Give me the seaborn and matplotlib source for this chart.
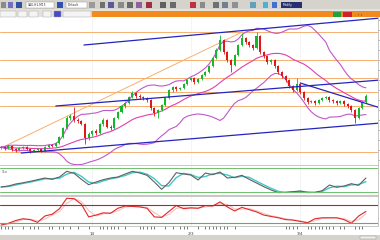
import numpy as np
import pandas as pd
import matplotlib
matplotlib.use("Agg")
import matplotlib.pyplot as plt
import seaborn as sns
from matplotlib.patches import Rectangle

# ---------------- data ----------------
first_open = 22
closes = [23, 22, 24, 21, 20, 22, 23, 21, 19, 20,
          21, 19, 23, 25, 24, 27, 33, 42, 52, 54,
          50, 49, 46, 32, 36, 39, 37, 46, 50, 43,
          42, 52, 58, 64, 67, 73, 77, 74, 73, 72,
          70, 62, 57, 60, 65, 72, 80, 83, 81, 82,
          86, 90, 92, 88, 91, 95, 98, 104, 112, 120,
          130, 118, 110, 105, 115, 125, 132, 128, 125, 122,
          134, 118, 114, 108, 110, 104, 98, 94, 90, 84,
          80, 86, 78, 72, 68, 69, 67, 70, 72, 73,
          70, 69, 67, 69, 66, 64, 60, 52, 62, 68,
          74]
highs = [24.5, 24, 25.5, 25, 22, 23, 24.5, 24, 22, 21.5,
         22.5, 22, 24, 26.5, 26, 28.5, 34, 43.5, 54, 56,
         63, 52, 50.5, 47, 38, 40, 41, 47, 52, 51,
         45, 53, 59.5, 65, 69, 74.5, 79, 78, 76, 74.5,
         73, 71, 63.5, 61.5, 66.5, 73, 81.5, 84.5, 84, 83.5,
         87.5, 91.5, 93.5, 93, 92.5, 96.5, 99.5, 105.5, 113.5, 122,
         135, 131, 119, 111, 116.5, 126.5, 137, 133.5, 129.5, 126,
         138, 135, 119.5, 115, 111.5, 111, 105, 99.5, 95, 91,
         85, 92, 87, 79, 73, 70.5, 70, 71.5, 73.5, 74.5,
         74, 71, 70, 70.5, 70, 67, 65, 61, 63.5, 69.5,
         76]
lows = [21, 20.5, 21, 19.5, 18.5, 19, 21, 20, 17.5, 18,
        19, 18, 18.5, 22, 23, 23, 26, 32, 41, 50,
        48, 47, 45, 26, 30, 34, 35.5, 36, 44, 42,
        40, 41, 51, 57, 62, 66, 72, 72.5, 71.5, 70.5,
        68.5, 60.5, 54, 52, 59, 64, 71, 78.5, 79.5, 80,
        81, 85, 89, 86.5, 87, 90, 94, 97, 103, 111,
        119, 116.5, 108.5, 98, 104, 114, 124, 126.5, 123.5, 120.5,
        121, 116.5, 112.5, 106.5, 106.5, 102.5, 96.5, 92.5, 88.5, 82.5,
        78.5, 79, 76.5, 70.5, 66.5, 67, 65.5, 66, 69, 71,
        68.5, 67.5, 65.5, 66, 64.5, 62.5, 58.5, 47, 51, 61,
        67]

fib_levels = [138, 109.7, 92.2, 78, 63.8, 18]

# trend lines: (index0, price0, index1, price1)
blue_lines = [(22.7, 125, 104, 152),
              (15.0, 64, 104, 90),
              (5.5, 17, 104, 47),
              (82.0, 87, 104, 62)]
fib_diag = (0, 22, 66.1, 138)

stoch_k = [32.5, 35, 40, 43, 46.7, 50.8, 55, 51.7, 57.5, 71.7,
           66.7, 51.7, 38.3, 45, 50.8, 55, 57.5, 65, 71.7, 67.5,
           61.7, 45, 26.7, 43.3, 68.3, 65, 62.5, 50, 67.5, 63.3,
           70, 55, 56.7, 61.7, 51.7, 42.5, 33.3, 25, 18.3, 19.2,
           20.8, 22.5, 18.3, 19.2, 23.3, 37.5, 31.7, 35, 40.8, 36.7,
           55]
rsi = [26, 30, 36, 40, 38, 32, 46, 50, 62, 85,
       84, 72, 44, 48, 53, 52, 63, 68, 67, 66,
       63, 44, 43, 56, 69, 62, 64, 63, 69, 68,
       77, 66, 57, 65, 60, 55, 48, 45, 42, 38,
       37, 34, 31, 40, 42, 42, 42, 38, 30, 46,
       56]

date_major = [25, 52, 82]
date_labels = ["14", "2/3", "3/4"]
date_minor = [0, 1, 2, 3, 6, 8, 9, 10, 13, 14, 16, 17, 19, 21, 24, 27, 28, 29, 30,
              31, 32, 34, 38, 39, 40, 41, 42, 45, 47, 49, 50, 51, 54, 56, 57, 58,
              59, 60, 61, 62, 64, 78, 79, 80, 81, 84, 85, 86, 87, 88, 89, 90,
              91, 93, 94, 97, 98, 99]

# ---------------- figure ----------------
sns.set_theme(style="white")
plt.rcParams['font.family'] = ['DejaVu Sans']

W, H = 380, 240
fig = plt.figure(figsize=(3.8, 2.4), dpi=100)
fig.patch.set_facecolor("white")


def fx(px):
    return px / W


def fy(py):
    return 1 - py / H


def frect(x0, y0, x1, y1, color, ec=None, lw=0.0, z=0):
    fig.patches.append(Rectangle((fx(x0), fy(y1)), fx(x1 - x0), (y1 - y0) / H,
                                 transform=fig.transFigure, facecolor=color,
                                 edgecolor=ec if ec else color, lw=lw, zorder=z))


# toolbar
frect(0, 0, 380, 9, "#d6d3cc")
frect(0, 9, 380, 17, "#e4e2dc")
frect(92, 11.5, 380, 17, "#f28a1e")
for (x0, x1, c) in [(1, 6, "#8a8a8a"), (8, 13, "#7070c0"), (16, 22, "#3050a0"),
                    (57, 63, "#3050b0"), (89, 95, "#9a9a9a"), (100, 105, "#707070"),
                    (108, 114, "#5a5a9a"), (118, 124, "#8a8a8a"), (127, 133, "#6a6a6a"),
                    (136, 142, "#9060a0"), (146, 152, "#a03040"), (160, 166, "#606060"),
                    (170, 176, "#6a6a6a"), (190, 196, "#c03040"), (200, 205, "#8a8a8a"),
                    (213, 219, "#707070"), (222, 228, "#708090"), (232, 238, "#909090"),
                    (250, 256, "#60a0c0"), (263, 268, "#50b0d0"), (272, 277, "#4070d0")]:
    frect(x0, 2.5, x1, 7.5, c)
frect(26, 2, 54, 8, "white", ec="#909090", lw=0.3)
frect(66, 2, 87, 8, "white", ec="#909090", lw=0.3)
frect(281, 2.5, 302, 8, "#26306e")
fig.text(fx(28), fy(5), "XAU,H1,M15", fontsize=2.2, color="#333333", va="center")
fig.text(fx(68), fy(5), "Default", fontsize=2.2, color="#333333", va="center")
fig.text(fx(283), fy(5.2), "Modify", fontsize=2.2, color="white", va="center")
for (x0, x1, c) in [(0, 16, "#f4f4f4"), (18, 27, "#f4f4f4"), (29, 38, "#f4f4f4"),
                    (43, 51, "#f4f4f4"), (54, 61, "#4a4ac8"), (63, 91, "#f4f4f4")]:
    frect(x0, 11, x1, 17, c, ec="#a0a0a0", lw=0.3)
frect(333, 12.5, 341, 16.5, "#20a040")
frect(343, 12.5, 352, 16.5, "#d02030")
fig.text(fx(355), fy(14.5), "- + x", fontsize=2.2, color="#505050", va="center")
frect(0, 235, 380, 240, "#d6d3cc")
frect(360, 236, 376, 239, "#ecebe6", ec="#909090", lw=0.3)

XL = (-0.3, 103.3)

# ---------------- main chart ----------------
ax = fig.add_axes([0, fy(165), fx(378), (165 - 17) / H])
idx = np.arange(len(closes))
opens = [first_open] + closes[:-1]
o = np.array(opens, float)
c = np.array(closes, float)
up = c >= o
col = np.where(up, "#14b828", "#e01818")
ax.vlines(idx, lows, highs, colors=col, lw=0.6, zorder=4)
body = np.maximum(np.abs(c - o), 0.7)
ax.bar(idx, body, bottom=np.minimum(o, c), width=0.55, color=col, lw=0, zorder=5)

for lv in fib_levels:
    ax.axhline(lv, color="#f5b070", lw=0.7, zorder=2)

df = pd.DataFrame({"i": idx, "close": c})
mid = df["close"].rolling(20, min_periods=1).mean()
sd = df["close"].rolling(20, min_periods=1).std(ddof=0)
sns.lineplot(x=idx, y=mid, ax=ax, color="#e040b0", lw=0.8, zorder=3)
sns.lineplot(x=idx, y=mid + 2 * sd, ax=ax, color="#c058c8", lw=0.8, zorder=3)
sns.lineplot(x=idx, y=mid - 2 * sd, ax=ax, color="#c058c8", lw=0.8, zorder=3)

for (i0, p0, i1, p1) in blue_lines:
    ax.plot([i0, i1], [p0, p1], color="#2424c0", lw=0.9, zorder=6)
ax.plot([fib_diag[0], fib_diag[2]], [fib_diag[1], fib_diag[3]], color="#f5b070", lw=0.7, zorder=2)

for m in date_major:
    ax.axvline(m, color="#d8d8d8", lw=0.5, ls=":", zorder=1)

ax.set_xlim(*XL)
ax.set_ylim(5, 153)
ax.set_xticks([])
ax.yaxis.tick_right()
ax.set_yticks(np.arange(10, 153, 10))
ax.tick_params(axis="y", length=1.5, width=0.4, color="#808080", labelright=False, pad=0)
for s in ax.spines.values():
    s.set_color("#b0b0b0")
    s.set_linewidth(0.5)
ax.spines["left"].set_visible(False)
ax.spines["top"].set_visible(False)
ax.set_xlabel("")
ax.set_ylabel("")

# ---------------- stochastic ----------------
ax_st = fig.add_axes([0, fy(195), fx(378), 30 / H])
st_idx = np.arange(0, 2 * len(stoch_k), 2)
st = pd.Series(stoch_k)
sns.lineplot(x=st_idx, y=st.rolling(2, min_periods=1).mean(), ax=ax_st, color="#40c8c8", lw=1.0)
sns.lineplot(x=st_idx, y=stoch_k, ax=ax_st, color="#606060", lw=0.8)
ax_st.axhline(80, color="#70c070", lw=0.7)
ax_st.axhline(20, color="#70c070", lw=0.7)
ax_st.text(0.3, 76, "Sto", fontsize=2.5, color="#606060", va="top")
ax_st.set_xlim(*XL)
ax_st.set_ylim(12.5, 87.5)

# ---------------- RSI ----------------
ax_r = fig.add_axes([0, fy(226), fx(378), 30 / H])
r_idx = np.arange(0, 2 * len(rsi), 2)
rs = pd.Series(rsi)
sns.lineplot(x=r_idx, y=rs.rolling(2, min_periods=1).mean(), ax=ax_r, color="#f6c0c0", lw=0.8)
sns.lineplot(x=r_idx, y=rsi, ax=ax_r, color="#e02828", lw=0.8)
ax_r.axhline(70, color="#9a3030", lw=0.8)
ax_r.axhline(30, color="#60b060", lw=0.8)
ax_r.set_xlim(*XL)
ax_r.set_ylim(24, 90)

for a in (ax_st, ax_r):
    a.set_xlabel("")
    a.set_ylabel("")
    a.yaxis.tick_right()
    a.set_yticks([])
    for s in a.spines.values():
        s.set_color("#b0b0b0")
        s.set_linewidth(0.5)
    a.spines["left"].set_visible(False)
    for m in date_major:
        a.axvline(m, color="#d8d8d8", lw=0.5, ls=":", zorder=0)
ax_st.set_xticks([])

ax_r.set_xticks(date_major)
ax_r.set_xticklabels(date_labels)
ax_r.set_xticks(date_minor, minor=True)
ax_r.tick_params(axis="x", which="major", length=4, width=0.5, color="#404040",
                 labelsize=3, labelcolor="#404040", pad=0.5, direction="out")
ax_r.tick_params(axis="x", which="minor", length=2.5, width=0.5, color="#404040",
                 direction="out", bottom=True)

fig.savefig("out.png", dpi=100, facecolor="white")
